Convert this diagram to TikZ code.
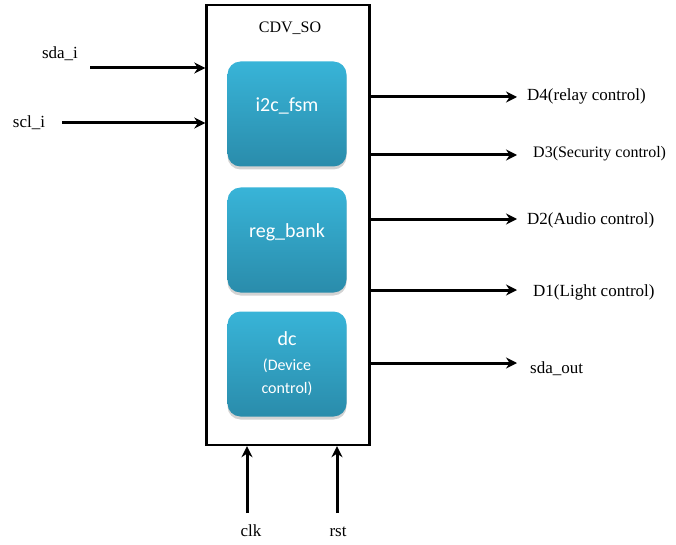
\documentclass[tikz,border=0pt]{standalone}
\usepackage{fontspec}
\setmainfont{Liberation Serif}
\newfontfamily\blockfont{Carlito}
\usetikzlibrary{arrows.meta,shadows}
\definecolor{blocktop}{HTML}{38B4D8}
\definecolor{blockbot}{HTML}{2A8CAB}

\begin{document}
\begin{tikzpicture}[
  x=1pt,y=-1pt,
  chip/.style={draw,line width=2.4pt,minimum width=163pt,minimum height=440pt},
  block/.style={rounded corners=13pt,top color=blocktop,bottom color=blockbot,
    minimum width=119pt,minimum height=105pt,text=white,align=center,
    font=\blockfont\fontsize{20}{23}\selectfont,
    drop shadow={opacity=0.35,shadow xshift=0pt,shadow yshift=-3pt}},
  sig/.style={line width=3pt,-{Stealth[length=11pt,width=11pt]}},
  lbl/.style={font=\fontsize{17}{20}\selectfont,inner sep=0pt}
]
  \useasboundingbox (0,0) rectangle (676,545);

  % the chip and its blocks
  \node[chip] (cdv) at (288,225) {};
  \node[lbl,font=\fontsize{16}{18}\selectfont] (title) at (290,28) {CDV\_SO};
  \node[block] (fsm) at (287,114) {i2c\_fsm\\[-4pt]};
  \node[block] (bank) at (287,240) {reg\_bank\\[-4pt]};
  \node[block] (dc) at (287,364) {dc\\[2pt]{\fontsize{16}{20}\selectfont(Device}\\{\fontsize{16}{20}\selectfont control)}};

  % inputs
  \node[lbl] (sda) at (60,54) {sda\_i};
  \node[lbl] (scl) at (29,123) {scl\_i};
  \coordinate (sdaS) at (90,68);
  \coordinate (sclS) at (62,123);
  \draw[sig] (sdaS) -- (sdaS -| cdv.west);
  \draw[sig] (sclS) -- (sclS -| cdv.west);

  % outputs
  \node[lbl,anchor=west] (d4) at (527,96) {D4(relay control)};
  \node[lbl,anchor=west,font=\fontsize{16}{18}\selectfont] (d3) at (533,154) {D3(Security control)};
  \node[lbl,anchor=west] (d2) at (527,220) {D2(Audio control)};
  \node[lbl,anchor=west] (d1) at (533,292) {D1(Light control)};
  \node[lbl,anchor=west] (sout) at (530,369) {sda\_out};
  \draw[sig] (cdv.east |- 0,97) -- (517,97);
  \draw[sig] (cdv.east |- 0,155) -- (517,155);
  \draw[sig] (cdv.east |- 0,219) -- (517,219);
  \draw[sig] (cdv.east |- 0,290) -- (517,290);
  \draw[sig] (cdv.east |- 0,363) -- (517,363);

  % clock and reset
  \node[lbl] (clk) at (251,531) {clk};
  \node[lbl] (rst) at (338,532) {rst};
  \coordinate (clkS) at (247,513);
  \coordinate (rstS) at (337,513);
  \draw[sig] (clkS) -- (clkS |- cdv.south);
  \draw[sig] (rstS) -- (rstS |- cdv.south);
\end{tikzpicture}
\end{document}
